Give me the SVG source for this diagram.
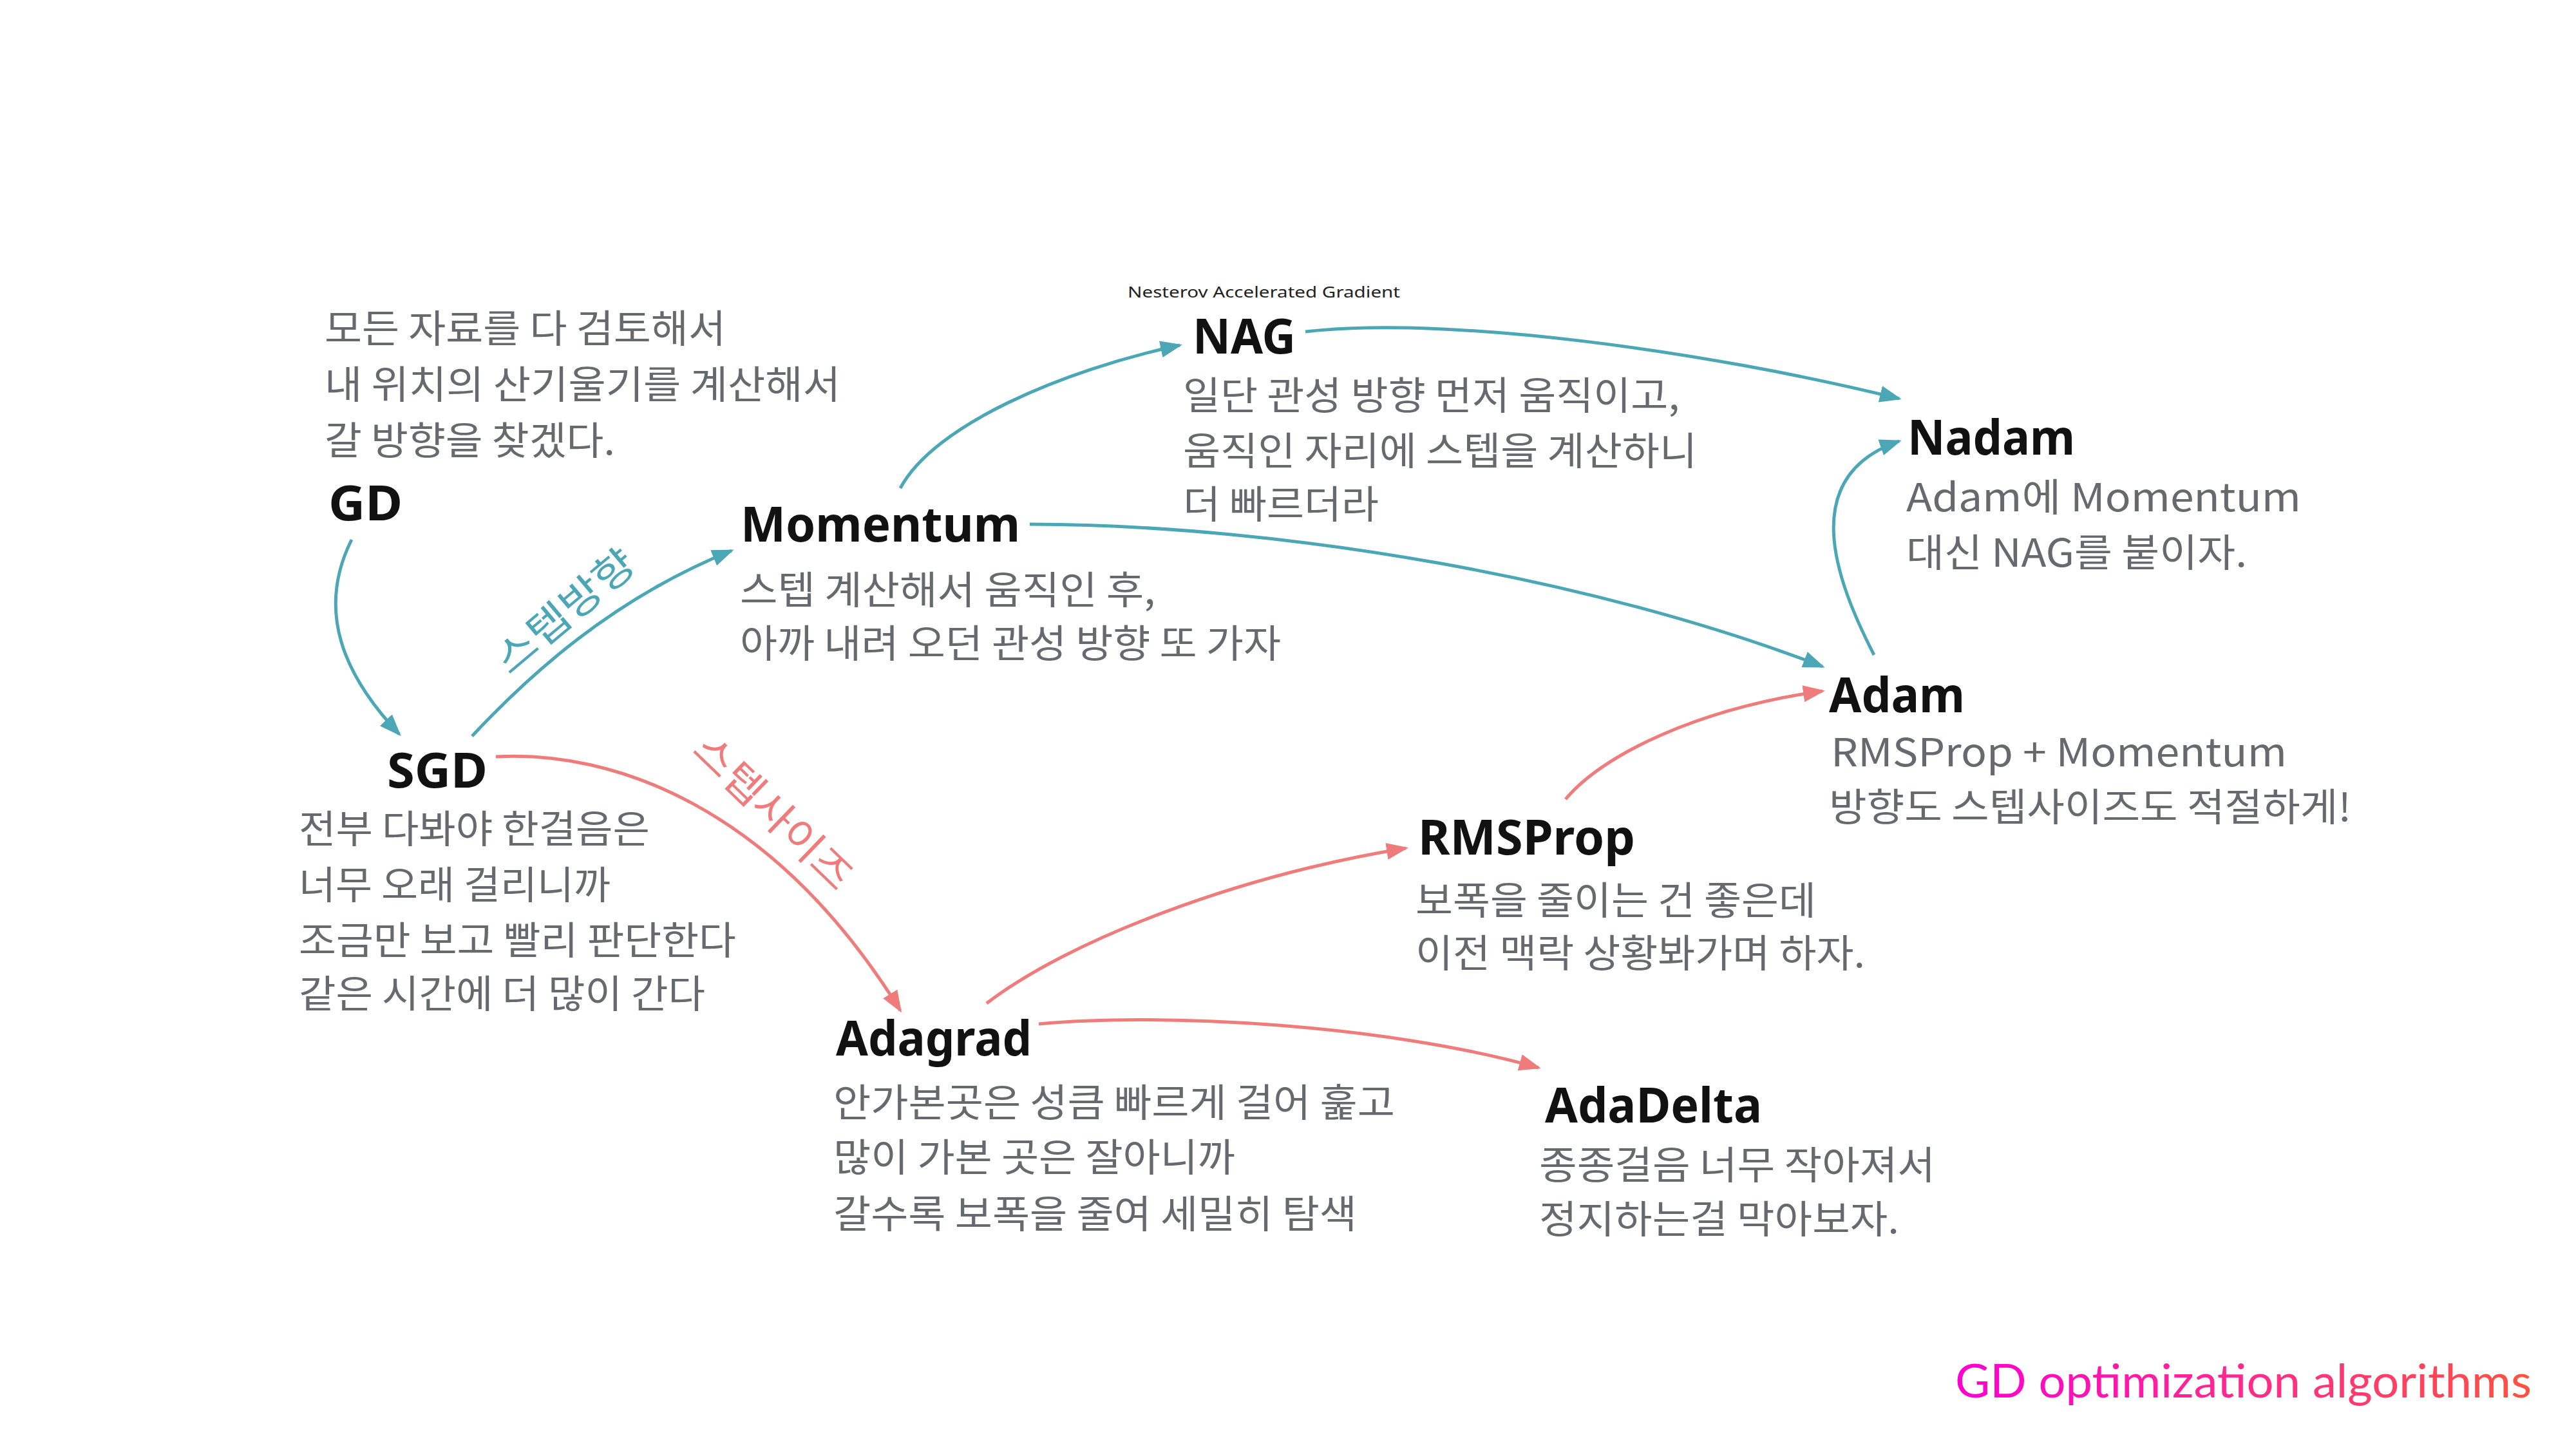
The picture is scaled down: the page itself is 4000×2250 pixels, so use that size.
<svg xmlns="http://www.w3.org/2000/svg" width="4000" height="2250" viewBox="0 0 4000 2250">
<defs>
<style>
.t{font-family:"Noto Sans","Liberation Sans","Noto Sans CJK KR",sans-serif;font-weight:700;font-size:76px;fill:#111;}
.d{font-family:"Noto Sans CJK KR","Noto Sans",sans-serif;font-size:60px;fill:#66696e;}
.s{font-family:"Noto Sans","Liberation Sans",sans-serif;font-size:24px;fill:#222;}
.tl{fill:none;stroke:#4ba7b6;stroke-width:5;}
.pk{fill:none;stroke:#ef7b7b;stroke-width:5;}
.lt{font-family:"Noto Sans CJK KR",sans-serif;font-size:62px;fill:#4ba7b6;}
.lp{font-family:"Noto Sans CJK KR",sans-serif;font-size:62px;fill:#ef7b7b;}
</style>
<marker id="at" markerUnits="userSpaceOnUse" markerWidth="34" markerHeight="26" refX="30" refY="13" orient="auto">
<path d="M0,0 L34,13 L0,26 z" fill="#4ba7b6"/>
</marker>
<marker id="ap" markerUnits="userSpaceOnUse" markerWidth="34" markerHeight="26" refX="30" refY="13" orient="auto">
<path d="M0,0 L34,13 L0,26 z" fill="#ef7b7b"/>
</marker>
<linearGradient id="tg" gradientUnits="userSpaceOnUse" x1="3036" y1="0" x2="3931" y2="0">
<stop offset="0" stop-color="#ff00d2"/>
<stop offset="0.5" stop-color="#ff2a8c"/>
<stop offset="1" stop-color="#ff523f"/>
</linearGradient>
</defs>
<rect width="4000" height="2250" fill="#fff"/>

<g id="connectors">
<path class="tl" d="M546,838 C490,950 535,1050 620,1140" marker-end="url(#at)"/>
<path class="tl" d="M733,1143 C820,1050 950,930 1136,855" marker-end="url(#at)"/>
<path class="tl" d="M1398,758 C1450,660 1650,575 1832,536" marker-end="url(#at)"/>
<path class="tl" d="M2027,515 C2250,490 2650,545 2949,619" marker-end="url(#at)"/>
<path class="tl" d="M1599,814 C2000,815 2480,900 2830,1035" marker-end="url(#at)"/>
<path class="tl" d="M2910,1017 C2850,900 2790,740 2949,685" marker-end="url(#at)"/>
<path class="pk" d="M770,1175 C950,1165 1200,1250 1398,1569" marker-end="url(#ap)"/>
<path class="pk" d="M1532,1558 C1660,1460 1920,1360 2183,1317" marker-end="url(#ap)"/>
<path class="pk" d="M1613,1590 C1800,1572 2150,1590 2389,1658" marker-end="url(#ap)"/>
<path class="pk" d="M2431,1241 C2490,1170 2640,1100 2830,1073" marker-end="url(#ap)"/>
<text class="lt" transform="translate(878,950) rotate(-40)" text-anchor="middle" y="21" textLength="262" lengthAdjust="spacingAndGlyphs">스텝방향</text>
<text class="lp" transform="translate(1200,1262) rotate(44)" text-anchor="middle" y="21" textLength="315" lengthAdjust="spacingAndGlyphs">스텝사이즈</text>
</g>

<g id="GD">
<text class="d" x="504" y="532" textLength="623" lengthAdjust="spacingAndGlyphs">모든 자료를 다 검토해서</text>
<text class="d" x="504" y="619" textLength="801" lengthAdjust="spacingAndGlyphs">내 위치의 산기울기를 계산해서</text>
<text class="d" x="504" y="706" textLength="451" lengthAdjust="spacingAndGlyphs">갈 방향을 찾겠다.</text>
<text class="t" x="510" y="808" textLength="115" lengthAdjust="spacingAndGlyphs">GD</text>
</g>

<g id="SGD">
<text class="t" x="601" y="1223" textLength="156" lengthAdjust="spacingAndGlyphs">SGD</text>
<text class="d" x="464" y="1309" textLength="545" lengthAdjust="spacingAndGlyphs">전부 다봐야 한걸음은</text>
<text class="d" x="464" y="1396" textLength="484" lengthAdjust="spacingAndGlyphs">너무 오래 걸리니까</text>
<text class="d" x="464" y="1482" textLength="679" lengthAdjust="spacingAndGlyphs">조금만 보고 빨리 판단한다</text>
<text class="d" x="464" y="1565" textLength="631" lengthAdjust="spacingAndGlyphs">같은 시간에 더 많이 간다</text>
</g>

<g id="Momentum">
<text class="t" x="1150" y="841" textLength="434" lengthAdjust="spacingAndGlyphs">Momentum</text>
<text class="d" x="1149" y="938" textLength="645" lengthAdjust="spacingAndGlyphs">스텝 계산해서 움직인 후,</text>
<text class="d" x="1149" y="1021" textLength="840" lengthAdjust="spacingAndGlyphs">아까 내려 오던 관성 방향 또 가자</text>
</g>

<g id="NAG">
<text class="s" x="1751" y="462" textLength="423" lengthAdjust="spacingAndGlyphs">Nesterov Accelerated Gradient</text>
<text class="t" x="1852" y="549" textLength="160" lengthAdjust="spacingAndGlyphs">NAG</text>
<text class="d" x="1837" y="636" textLength="771" lengthAdjust="spacingAndGlyphs">일단 관성 방향 먼저 움직이고,</text>
<text class="d" x="1837" y="722" textLength="798" lengthAdjust="spacingAndGlyphs">움직인 자리에 스텝을 계산하니</text>
<text class="d" x="1837" y="805" textLength="304" lengthAdjust="spacingAndGlyphs">더 빠르더라</text>
</g>

<g id="Nadam">
<text class="t" x="2962" y="706" textLength="260" lengthAdjust="spacingAndGlyphs">Nadam</text>
<text class="d" x="2960" y="794" textLength="613" lengthAdjust="spacingAndGlyphs">Adam에 Momentum</text>
<text class="d" x="2960" y="880" textLength="529" lengthAdjust="spacingAndGlyphs">대신 NAG를 붙이자.</text>
</g>

<g id="Adam">
<text class="t" x="2840" y="1106" textLength="211" lengthAdjust="spacingAndGlyphs">Adam</text>
<text class="d" x="2843" y="1190" textLength="708" lengthAdjust="spacingAndGlyphs">RMSProp + Momentum</text>
<text class="d" x="2840" y="1275" textLength="811" lengthAdjust="spacingAndGlyphs">방향도 스텝사이즈도 적절하게!</text>
</g>

<g id="RMSProp">
<text class="t" x="2202" y="1327" textLength="337" lengthAdjust="spacingAndGlyphs">RMSProp</text>
<text class="d" x="2198" y="1420" textLength="622" lengthAdjust="spacingAndGlyphs">보폭을 줄이는 건 좋은데</text>
<text class="d" x="2198" y="1502" textLength="698" lengthAdjust="spacingAndGlyphs">이전 맥락 상황봐가며 하자.</text>
</g>

<g id="Adagrad">
<text class="t" x="1298" y="1639" textLength="304" lengthAdjust="spacingAndGlyphs">Adagrad</text>
<text class="d" x="1294" y="1734" textLength="872" lengthAdjust="spacingAndGlyphs">안가본곳은 성큼 빠르게 걸어 훑고</text>
<text class="d" x="1294" y="1819" textLength="624" lengthAdjust="spacingAndGlyphs">많이 가본 곳은 잘아니까</text>
<text class="d" x="1294" y="1907" textLength="813" lengthAdjust="spacingAndGlyphs">갈수록 보폭을 줄여 세밀히 탐색</text>
</g>

<g id="AdaDelta">
<text class="t" x="2399" y="1743" textLength="337" lengthAdjust="spacingAndGlyphs">AdaDelta</text>
<text class="d" x="2390" y="1831" textLength="615" lengthAdjust="spacingAndGlyphs">종종걸음 너무 작아져서</text>
<text class="d" x="2390" y="1915" textLength="559" lengthAdjust="spacingAndGlyphs">정지하는걸 막아보자.</text>
</g>

<g id="title">
<text x="3036" y="2170" font-family="Lato,'Open Sans',sans-serif" font-size="72" fill="url(#tg)" textLength="895" lengthAdjust="spacingAndGlyphs">GD optimization algorithms</text>
</g>
</svg>
